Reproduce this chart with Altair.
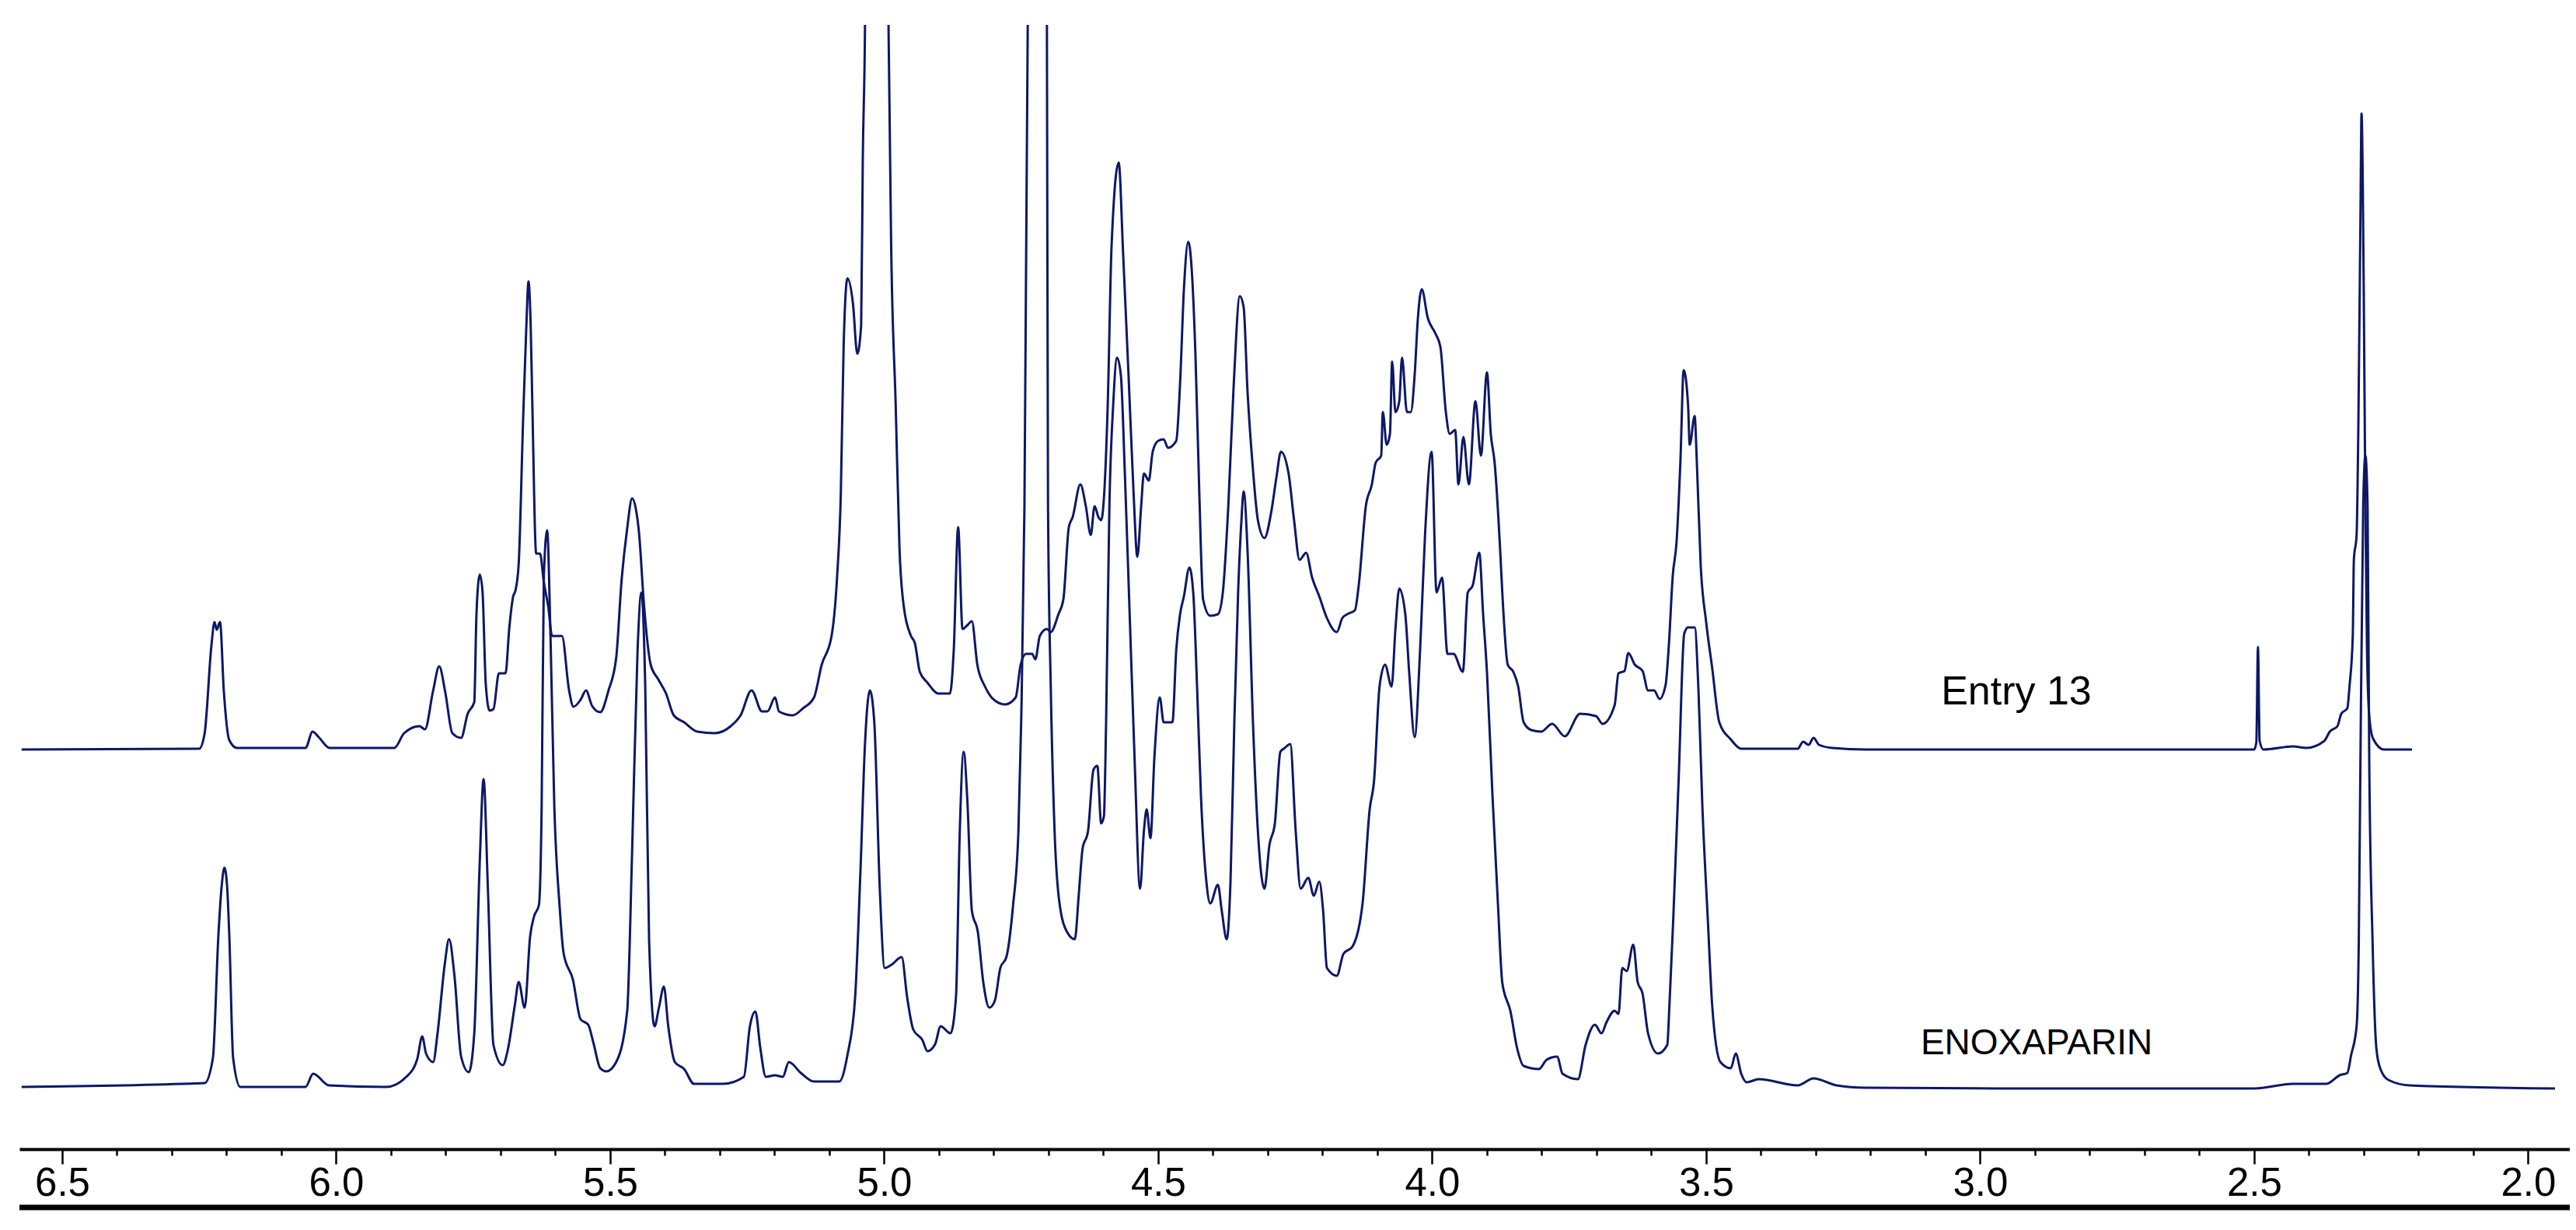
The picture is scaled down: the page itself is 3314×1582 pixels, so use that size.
import altair as alt
import pandas as pd

# ---- data (ppm, intensity above each trace's own baseline) ----
E13_PPM = [
    6.574, 6.250, 6.240, 6.228, 6.222, 6.218, 6.212, 6.205, 6.195, 6.181,
    6.074, 6.056, 6.043, 6.032, 6.012, 5.894, 5.876, 5.848, 5.838, 5.823,
    5.812, 5.801, 5.788, 5.772, 5.760, 5.748, 5.744, 5.738, 5.733, 5.727,
    5.720, 5.713, 5.703, 5.691, 5.684, 5.677, 5.673, 5.667, 5.659, 5.653,
    5.649, 5.645, 5.642, 5.635, 5.628, 5.621, 5.613, 5.606, 5.588, 5.575,
    5.567, 5.554, 5.544, 5.533, 5.518, 5.503, 5.489, 5.479, 5.469, 5.460,
    5.453, 5.447, 5.439, 5.426, 5.412, 5.398, 5.384, 5.365, 5.341, 5.309,
    5.280, 5.262, 5.242, 5.223, 5.213, 5.199, 5.192, 5.167, 5.148, 5.128,
    5.114, 5.096, 5.086, 5.079, 5.074, 5.067, 5.057, 5.049, 5.042, 5.039,
    5.035, 5.031, 5.013, 4.996, 4.992, 4.987, 4.979, 4.972, 4.964, 4.951,
    4.944, 4.935, 4.921, 4.901, 4.880, 4.873, 4.865, 4.857, 4.848, 4.840,
    4.830, 4.816, 4.798, 4.779, 4.760, 4.751, 4.741, 4.730, 4.724, 4.716,
    4.703, 4.696, 4.682, 4.673, 4.663, 4.656, 4.642, 4.632, 4.623, 4.616,
    4.609, 4.604, 4.599, 4.592, 4.585, 4.572, 4.564, 4.554, 4.545, 4.538,
    4.531, 4.526, 4.517, 4.510, 4.500, 4.490, 4.482, 4.467, 4.460, 4.453,
    4.445, 4.439, 4.432, 4.425, 4.418, 4.405, 4.391, 4.382, 4.372, 4.362,
    4.351, 4.344, 4.337, 4.327, 4.318, 4.306, 4.294, 4.284, 4.276, 4.262,
    4.252, 4.242, 4.230, 4.219, 4.206, 4.192, 4.174, 4.164, 4.155, 4.141,
    4.134, 4.121, 4.110, 4.103, 4.093, 4.090, 4.083, 4.077, 4.073, 4.067,
    4.060, 4.055, 4.046, 4.039, 4.032, 4.026, 4.019, 4.008, 3.994, 3.985,
    3.975, 3.968, 3.958, 3.952, 3.943, 3.933, 3.921, 3.911, 3.900, 3.893,
    3.886, 3.876, 3.872, 3.862, 3.852, 3.843, 3.833, 3.819, 3.801, 3.781,
    3.758, 3.730, 3.701, 3.689, 3.667, 3.660, 3.649, 3.642, 3.630, 3.616,
    3.606, 3.595, 3.585, 3.574, 3.568, 3.561, 3.554, 3.547, 3.541, 3.533,
    3.530, 3.521, 3.517, 3.510, 3.500, 3.489, 3.476, 3.455, 3.436, 3.333,
    3.323, 3.313, 3.304, 3.294, 3.270, 3.209, 2.500, 2.496, 2.493, 2.490,
    2.483, 2.429, 2.405, 2.372, 2.362, 2.348, 2.341, 2.330, 2.326, 2.320,
    2.318, 2.313, 2.310, 2.306, 2.304, 2.300, 2.297, 2.294, 2.290, 2.283,
    2.263, 2.212,
]
E13_INT = [
    0, 1, 21, 131, 164, 154, 164, 75, 12, 2,
    2, 2, 23, 16, 2, 2, 21, 30, 26, 76,
    107, 74, 21, 15, 46, 61, 174, 225, 204, 84,
    50, 52, 98, 98, 157, 197, 204, 238, 421, 544,
    602, 544, 443, 252, 252, 215, 184, 146, 146, 76,
    55, 64, 76, 56, 48, 76, 118, 219, 284, 323,
    309, 276, 193, 109, 90, 72, 44, 35, 23, 21,
    30, 44, 76, 49, 49, 67, 49, 44, 53, 67,
    109, 146, 221, 332, 518, 606, 574, 509, 546, 760,
    927, 1364, 1664, 1364, 927, 639, 444, 258, 183, 146,
    137, 100, 86, 72, 72, 128, 286, 155, 160, 165,
    109, 81, 63, 58, 67, 109, 123, 123, 116, 146,
    155, 151, 174, 193, 286, 299, 341, 313, 276, 313,
    299, 295, 323, 444, 648, 755, 639, 481, 332, 248,
    313, 355, 346, 383, 397, 399, 388, 397, 471, 592,
    653, 620, 509, 332, 193, 172, 174, 202, 313, 471,
    583, 569, 462, 360, 295, 272, 304, 351, 383, 355,
    295, 244, 253, 221, 197, 169, 151, 169, 174, 179,
    211, 313, 341, 369, 378, 434, 392, 406, 499, 434,
    448, 504, 434, 434, 481, 555, 592, 555, 535, 518,
    434, 406, 411, 341, 402, 341, 448, 378, 485, 406,
    369, 258, 202, 109, 100, 81, 35, 25, 23, 33,
    17, 46, 43, 33, 57, 98, 101, 124, 109, 101,
    76, 76, 65, 83, 135, 223, 267, 370, 488, 443,
    392, 429, 370, 238, 164, 105, 35, 13, 1, 1,
    10, 6, 15, 6, 2, 0, 0, 9, 132, 11,
    0, 4, 2, 11, 23, 30, 46, 53, 81, 146,
    244, 276, 406, 685, 818, 592, 313, 128, 44, 14,
    0, 0,
]

ENOX_PPM = [
    6.574, 6.240, 6.225, 6.215, 6.209, 6.204, 6.199, 6.195, 6.188, 6.175,
    6.056, 6.042, 6.013, 5.909, 5.872, 5.852, 5.843, 5.836, 5.823, 5.815,
    5.802, 5.794, 5.784, 5.772, 5.758, 5.748, 5.738, 5.731, 5.723, 5.713,
    5.696, 5.687, 5.674, 5.667, 5.656, 5.646, 5.639, 5.630, 5.625, 5.621,
    5.615, 5.609, 5.602, 5.592, 5.585, 5.568, 5.554, 5.540, 5.531, 5.518,
    5.507, 5.489, 5.469, 5.460, 5.450, 5.443, 5.436, 5.429, 5.419, 5.411,
    5.402, 5.394, 5.382, 5.365, 5.347, 5.294, 5.256, 5.245, 5.235, 5.226,
    5.216, 5.199, 5.185, 5.174, 5.152, 5.128, 5.082, 5.067, 5.053, 5.043,
    5.035, 5.026, 5.018, 5.008, 4.999, 4.987, 4.968, 4.958, 4.947, 4.930,
    4.921, 4.907, 4.897, 4.879, 4.869, 4.862, 4.855, 4.848, 4.840, 4.829,
    4.819, 4.808, 4.798, 4.788, 4.777, 4.765, 4.755, 4.750, 4.744, 4.738,
    4.734, 4.720, 4.706, 4.703, 4.701, 4.696, 4.689, 4.680, 4.666, 4.652,
    4.645, 4.638, 4.628, 4.618, 4.611, 4.604, 4.599, 4.595, 4.589, 4.582,
    4.575, 4.568, 4.561, 4.552, 4.543, 4.533, 4.526, 4.521, 4.514, 4.507,
    4.497, 4.490, 4.474, 4.467, 4.460, 4.453, 4.443, 4.436, 4.429, 4.422,
    4.412, 4.405, 4.391, 4.384, 4.375, 4.368, 4.361, 4.354, 4.348, 4.344,
    4.337, 4.327, 4.318, 4.306, 4.297, 4.287, 4.277, 4.269, 4.259, 4.249,
    4.240, 4.226, 4.216, 4.206, 4.199, 4.192, 4.174, 4.162, 4.145, 4.127,
    4.114, 4.106, 4.096, 4.086, 4.074, 4.067, 4.060, 4.049, 4.042, 4.032,
    4.022, 4.013, 4.001, 3.992, 3.982, 3.972, 3.961, 3.944, 3.935, 3.926,
    3.914, 3.907, 3.900, 3.890, 3.880, 3.872, 3.857, 3.845, 3.833, 3.805,
    3.791, 3.772, 3.762, 3.734, 3.720, 3.703, 3.691, 3.682, 3.667, 3.660,
    3.653, 3.645, 3.633, 3.625, 3.616, 3.606, 3.588, 3.571, 3.567, 3.560,
    3.550, 3.540, 3.533, 3.521, 3.514, 3.507, 3.497, 3.489, 3.474, 3.455,
    3.446, 3.436, 3.426, 3.404, 3.333, 3.304, 3.262, 3.209, 2.926, 2.500,
    2.429, 2.368, 2.344, 2.330, 2.323, 2.313, 2.309, 2.306, 2.301, 2.297,
    2.293, 2.290, 2.284, 2.277, 2.270, 2.255, 2.216, 1.951,
]
ENOX_INT = [
    2, 7, 39, 196, 260, 284, 260, 196, 39, 2,
    2, 19, 4, 2, 15, 38, 67, 45, 34, 71,
    159, 192, 144, 41, 21, 71, 291, 398, 254, 56,
    30, 49, 107, 137, 104, 196, 221, 236, 365, 659,
    718, 585, 365, 232, 174, 140, 89, 82, 60, 26,
    22, 34, 99, 303, 564, 638, 517, 192, 80, 104,
    131, 80, 34, 25, 6, 6, 15, 80, 99, 52,
    15, 17, 15, 34, 20, 9, 9, 43, 117, 285,
    443, 512, 471, 257, 155, 159, 169, 117, 76, 62,
    48, 57, 80, 71, 117, 331, 433, 368, 229, 201,
    136, 104, 113, 155, 169, 234, 331, 471, 749, 1368,
    1900, 2200, 1900, 1368, 749, 517, 331, 238, 201, 192,
    248, 308, 331, 410, 415, 341, 350, 471, 749, 880,
    940, 917, 796, 610, 424, 257, 331, 359, 322, 424,
    503, 471, 471, 564, 610, 633, 670, 638, 517, 378,
    266, 238, 262, 229, 192, 266, 471, 640, 731, 768,
    694, 471, 331, 257, 313, 341, 433, 438, 443, 331,
    257, 271, 248, 266, 229, 155, 145, 173, 183, 238,
    359, 396, 517, 545, 517, 591, 643, 610, 536, 452,
    564, 712, 819, 638, 657, 559, 559, 536, 638, 647,
    689, 610, 536, 378, 238, 136, 99, 52, 29, 25,
    37, 41, 19, 12, 56, 82, 71, 85, 100, 96,
    155, 151, 185, 137, 122, 71, 45, 56, 107, 218,
    401, 585, 593, 593, 512, 365, 218, 107, 34, 26,
    45, 19, 8, 12, 4, 13, 4, 1, 0, 0,
    6, 6, 17, 20, 43, 80, 192, 424, 749, 814,
    749, 424, 192, 52, 26, 11, 4, 0,
]

SERIES = ["Entry 13", "ENOXAPARIN"]
STACK_OFFSET = [514, 78]          # vertical stacking of the two traces
LABEL_PPM = [2.934, 2.897]
LABEL_HEIGHT = [588, 136]
TICK_VALUES = [round(2.0 + 0.1 * i, 1) for i in range(46)]

assert len(E13_PPM) == len(E13_INT), (len(E13_PPM), len(E13_INT))
assert len(ENOX_PPM) == len(ENOX_INT), (len(ENOX_PPM), len(ENOX_INT))

# ---- layout ----
W, H = 3281, 1446
X_DOMAIN = [6.578, 1.924]
LINE_COLOR = "#0e1866"
FONT = "Liberation Sans"

rows = []
for name, ppms, vals, off in [
    (SERIES[0], E13_PPM, E13_INT, STACK_OFFSET[0]),
    (SERIES[1], ENOX_PPM, ENOX_INT, STACK_OFFSET[1]),
]:
    for p, v in zip(ppms, vals):
        rows.append({"series": name, "ppm": p, "y": v + off})
df = pd.DataFrame(rows)

labels = pd.DataFrame({"label": SERIES, "ppm": LABEL_PPM, "y": LABEL_HEIGHT})

major = "abs(datum.value * 2 - round(datum.value * 2)) < 0.001"
x_axis = alt.Axis(
    values=TICK_VALUES,
    labelExpr=f"{major} ? format(datum.value, '.1f') : ''",
    tickSize={"condition": {"test": major, "value": 19}, "value": 8},
    tickColor="black",
    tickWidth=2.5,
    domainColor="black",
    domainWidth=4,
    labelFont=FONT,
    labelFontSize=51,
    labelColor="black",
    labelPadding=0,
    labelOverlap=False,
    labelFlush=False,
    grid=False,
    title=None,
)
X = alt.X("ppm:Q", scale=alt.Scale(domain=X_DOMAIN, nice=False, zero=False), axis=x_axis)
Y = alt.Y("y:Q", scale=alt.Scale(domain=[0, H], nice=False, zero=False), axis=None)

lines = alt.Chart(df).mark_line(
    clip=True, strokeWidth=3, color=LINE_COLOR, strokeJoin="round", interpolate="monotone"
).encode(x=X, y=Y, detail="series:N", order="ppm:Q")

txt_entry = alt.Chart(labels).transform_filter(
    alt.datum.label == SERIES[0]
).mark_text(font=FONT, fontSize=52, color="black", align="center", baseline="middle").encode(
    x=X, y=Y, text="label:N"
)
txt_enox = alt.Chart(labels).transform_filter(
    alt.datum.label == SERIES[1]
).mark_text(font=FONT, fontSize=46, color="black", align="center", baseline="middle").encode(
    x=X, y=Y, text="label:N"
)

bottom_bar = alt.Chart(pd.DataFrame({"k": [0]})).mark_rule(
    color="black", strokeWidth=7
).encode(x=alt.value(0), x2=alt.value(W + 8), y=alt.value(H + 75))

chart = alt.layer(lines, txt_entry, txt_enox, bottom_bar).properties(
    width=W,
    height=H,
    autosize=alt.AutoSizeParams(type="none"),
    padding={"left": 17, "top": 24, "right": 0, "bottom": 82},
).configure(background="white").configure_view(stroke=None, strokeWidth=0)

chart.save("out.html", embed_options={"renderer": "svg", "actions": False})
